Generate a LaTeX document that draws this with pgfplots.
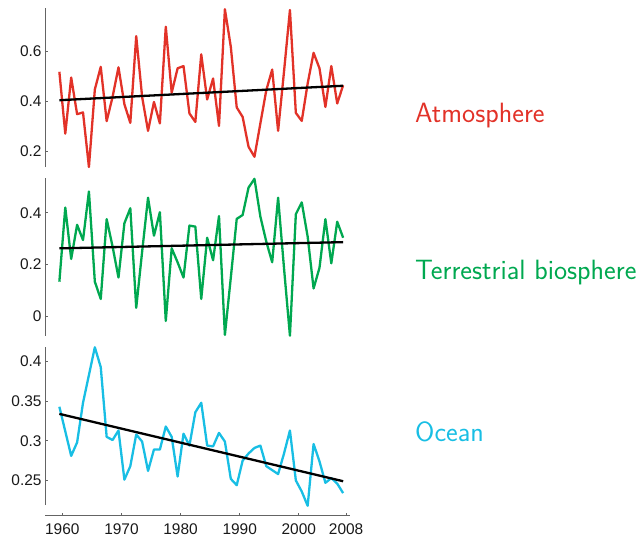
\documentclass[border=0pt]{standalone}
\usepackage{fontspec}
\setmainfont{Liberation Sans}
\usepackage{pgfplots}
\pgfplotsset{compat=1.18}
\usepackage{pgfplotstable}
\definecolor{atm}{RGB}{226,50,40}
\definecolor{ter}{RGB}{0,168,80}
\definecolor{oce}{RGB}{24,190,228}
\definecolor{spine}{RGB}{100,100,100}

\pgfplotstableread{
x atm ter oce
1959.5 0.519 0.134 0.343
1960.5 0.271 0.421 0.312
1961.5 0.496 0.222 0.281
1962.5 0.349 0.354 0.298
1963.5 0.356 0.295 0.348
1964.5 0.137 0.483 0.383
1965.5 0.448 0.134 0.418
1966.5 0.539 0.067 0.393
1967.5 0.321 0.376 0.305
1968.5 0.418 0.270 0.301
1969.5 0.537 0.150 0.313
1970.5 0.389 0.360 0.251
1971.5 0.314 0.418 0.268
1972.5 0.662 0.033 0.308
1973.5 0.418 0.250 0.299
1974.5 0.282 0.459 0.262
1975.5 0.398 0.312 0.289
1976.5 0.312 0.403 0.289
1977.5 0.700 -0.018 0.318
1978.5 0.435 0.263 0.305
1979.5 0.533 0.209 0.255
1980.5 0.542 0.150 0.309
1981.5 0.352 0.351 0.294
1982.5 0.318 0.347 0.336
1983.5 0.589 0.067 0.348
1984.5 0.408 0.304 0.294
1985.5 0.492 0.217 0.293
1986.5 0.302 0.388 0.310
1987.5 0.770 -0.072 0.299
1988.5 0.619 0.150 0.252
1989.5 0.376 0.377 0.244
1990.5 0.338 0.392 0.275
1991.5 0.218 0.498 0.284
1992.5 0.178 0.532 0.291
1993.5 0.312 0.386 0.294
1994.5 0.445 0.289 0.268
1995.5 0.528 0.209 0.263
1996.5 0.282 0.459 0.258
1997.5 0.520 0.186 0.284
1998.5 0.767 -0.075 0.313
1999.5 0.354 0.395 0.250
2000.5 0.322 0.441 0.236
2001.5 0.472 0.308 0.218
2002.5 0.595 0.108 0.296
2003.5 0.533 0.188 0.274
2004.5 0.378 0.376 0.247
2005.5 0.542 0.205 0.253
2006.5 0.392 0.366 0.246
2007.5 0.465 0.304 0.234
}\data

\pgfplotstableread{
x atm ter oce
1959.5 0.405 0.263 0.334
2007.5 0.463 0.287 0.249
}\trend

\pgfplotsset{
  base/.style={
    scale only axis, width=305bp,
    xmin=1957.07, xmax=2008.66,
    tick align=inside, major tick length=3bp,
    axis line style={spine, line width=0.9bp},
    tick style={spine, line width=0.9bp},
    clip=false, anchor=south west,
    tick label style={font=\fontsize{15.5}{18}\selectfont, text=black!90},
    /pgf/number format/assume math mode=true,
    /pgf/number format/fixed,
  },
  panel/.style={base, axis y line*=left, axis x line=none},
  dl/.style={line width=2.3bp, line join=round},
  tl/.style={black, line width=2.3bp},
}

\begin{document}
\begin{tikzpicture}
\path[use as bounding box] (0bp,0bp) rectangle (642bp,-538bp);

\begin{axis}[panel, at={(45bp,-167bp)}, height=159bp, ymin=0.137, ymax=0.775, ytick={0.2,0.4,0.6}]
\addplot[dl, atm] table[x=x, y=atm] {\data};
\addplot[tl] table[x=x, y=atm] {\trend};
\end{axis}

\begin{axis}[panel, at={(45bp,-335.7bp)}, height=157.4bp, ymin=-0.075, ymax=0.534, ytick={0,0.2,0.4}]
\addplot[dl, ter] table[x=x, y=ter] {\data};
\addplot[tl] table[x=x, y=ter] {\trend};
\end{axis}

\begin{axis}[panel, at={(45bp,-505bp)}, height=157.7bp, ymin=0.219, ymax=0.418, ytick={0.25,0.3,0.35,0.4}]
\addplot[dl, oce] table[x=x, y=oce] {\data};
\addplot[tl] table[x=x, y=oce] {\trend};
\end{axis}

\begin{axis}[base, at={(45bp,-515.7bp)}, height=5bp, ymin=0, ymax=1,
  axis x line*=bottom, hide y axis,
  xtick={1960,1970,1980,1990,2000,2008},
  x tick label style={/pgf/number format/1000 sep={}, yshift=-4bp}]
\end{axis}

\node[anchor=base west, text=atm, font=\sffamily\fontsize{28}{32}\selectfont, inner sep=0pt] at (415bp,-122.3bp) {Atmosphere};
\node[anchor=base west, text=ter, font=\sffamily\fontsize{28}{32}\selectfont, inner sep=0pt] at (415bp,-279.3bp) {Terrestrial biosphere};
\node[anchor=base west, text=oce, font=\sffamily\fontsize{28}{32}\selectfont, inner sep=0pt] at (415bp,-441.5bp) {Ocean};
\end{tikzpicture}
\end{document}
